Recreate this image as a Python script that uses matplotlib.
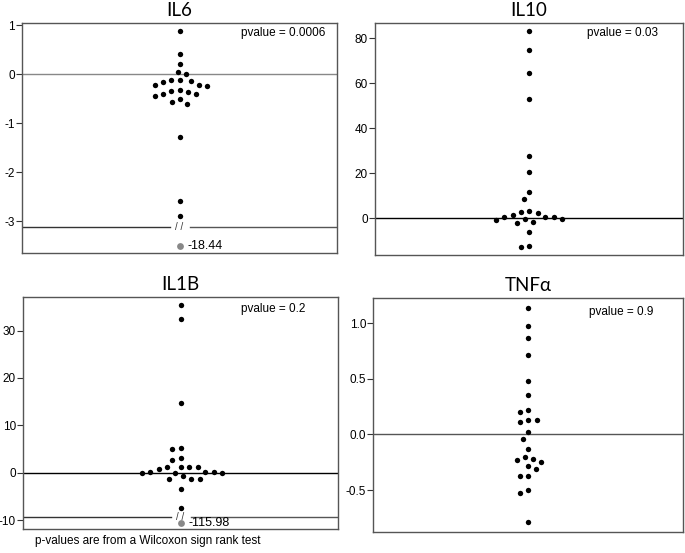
import numpy as np
import matplotlib
matplotlib.use("Agg")
import matplotlib.pyplot as plt

# fold changes per marker
il6 = [0.88, 0.41, 0.22, -0.31, -0.24, -0.44, -0.37, -0.22, -0.12, -0.50, -0.61,
       -0.41, -0.41, -0.33, -0.56, 0.01, -0.15, -0.12, 0.05, -0.14, -0.22,
       -1.27, -2.59, -2.89]
il6_outlier = -18.44
il10 = [83.4, 75.0, 64.6, 52.9, 27.7, 20.4, 11.6, 8.6, 3.0, 2.5, 0.4, -0.7,
        -0.3, 0.4, 3.1, 0.6, 1.5, -1.9, -1.6, -0.1, -6.2, -12.2, -12.6]
il1b = [35.5, 32.4, 14.8, 5.3, 5.1, 3.2, 2.6, 1.3, 1.1, 1.1, 0.0, 0.2, -0.1,
        -1.4, -1.3, 0.1, 0.0, -0.7, -1.4, 0.2, 0.7, 1.1, -3.4, -7.5]
il1b_outlier = -115.98
tnfa = [1.14, 0.97, 0.87, 0.71, 0.48, 0.35, 0.20, 0.22, 0.13, 0.13, 0.11, 0.02,
        -0.04, -0.13, -0.31, -0.25, -0.23, -0.37, -0.37, -0.28, -0.20, -0.22,
        -0.50, -0.53, -0.79]

titles = ["IL6", "IL10", "IL1B", "TNF\u03b1"]
pvalues = ["0.0006", "0.03", "0.2", "0.9"]

W, H = 685, 553
fig = plt.figure(figsize=(W / 100, H / 100), dpi=100)
plt.rcParams['font.family'] = ['Liberation Sans', 'DejaVu Sans']


def box(l, t, r, b):
    return [l / W, 1 - b / H, (r - l) / W, (b - t) / H]


def swarm(vals, ylim, hpx, wpx, xlim, d=8.5):
    # simple beeswarm in pixel space, loose spacing
    ppu = hpx / (ylim[1] - ylim[0])
    ys = np.array(vals) * ppu
    placed = []
    xs = np.zeros(len(vals))
    for i in np.argsort(-np.array(vals)):
        step = 0
        while True:
            found = False
            for cand in ([0.0] if step == 0 else [-step, step]):
                if all((cand - px) ** 2 + (ys[i] - py) ** 2 >= d * d for px, py in placed):
                    xs[i] = cand
                    placed.append((cand, ys[i]))
                    found = True
                    break
            if found:
                break
            step += 0.5
    return xs * (xlim[1] - xlim[0]) / wpx


panels = [
    (il6, box(22, 23, 337, 253), (-3.65, 1.05), [1, 0, -1, -2, -3], '%d', '#888888',
     (il6_outlier, -3.5, -3.11), (0.962, 0.957)),
    (il10, box(375, 23, 683, 255), (-16.3, 86.8), [80, 60, 40, 20, 0], '%d', 'black',
     None, (0.919, 0.957)),
    (il1b, box(23, 297, 338, 529), (-11.9, 37.1), [30, 20, 10, 0, -10], '%d', 'black',
     (il1b_outlier, -10.7, -9.4), (0.895, 0.948)),
    (tnfa, box(373, 298, 683, 532), (-0.877, 1.226), [1.0, 0.5, 0.0, -0.5], '%.1f', '#555555',
     None, (0.903, 0.94)),
]

xlim = (-1, 1)
for k, (vals, rect, ylim, ticks, fmt, zcol, outl, ptxt) in enumerate(panels):
    ax = fig.add_axes(rect)
    wpx = rect[2] * W
    hpx = rect[3] * H
    xs = swarm(vals, ylim, hpx, wpx, xlim)
    ax.axhline(0, color=zcol, lw=1, zorder=1)
    ax.scatter(xs, vals, s=15, color='black', zorder=3, linewidths=0)
    if outl is not None:
        oval, opos, brk = outl
        gap = 10 / wpx * (xlim[1] - xlim[0])
        ax.plot([xlim[0], -gap], [brk, brk], color='#333333', lw=1, zorder=2)
        ax.plot([gap, xlim[1]], [brk, brk], color='#555555', lw=1, zorder=2)
        ax.text(0, brk, '/ /', ha='center', va='center', fontsize=7, color='#333333')
        ax.scatter([0], [opos], s=24, color='#888888', zorder=3, linewidths=0)
        ax.text(0.05, opos, '%.2f' % oval, ha='left', va='center', fontsize=9)
    ax.set_xlim(xlim)
    ax.set_ylim(ylim)
    ax.set_xticks([])
    ax.set_yticks(ticks)
    ax.set_yticklabels([fmt % t for t in ticks])
    ax.tick_params(axis='y', labelsize=8.5, length=4, width=0.8, color='#333333', pad=1)
    for sp in ax.spines.values():
        sp.set_color('#555555')
        sp.set_linewidth(1)
    ax.set_title(titles[k], fontsize=13.5, family=['Lato', 'DejaVu Sans'], pad=5)
    ax.text(ptxt[0], ptxt[1], 'pvalue = ' + pvalues[k], transform=ax.transAxes,
            ha='right', va='center', fontsize=8.5)

fig.text(35 / W, 1 - 541 / H, 'p-values are from a Wilcoxon sign rank test',
         ha='left', va='center', fontsize=8.5)

fig.savefig('out.png', dpi=100)
